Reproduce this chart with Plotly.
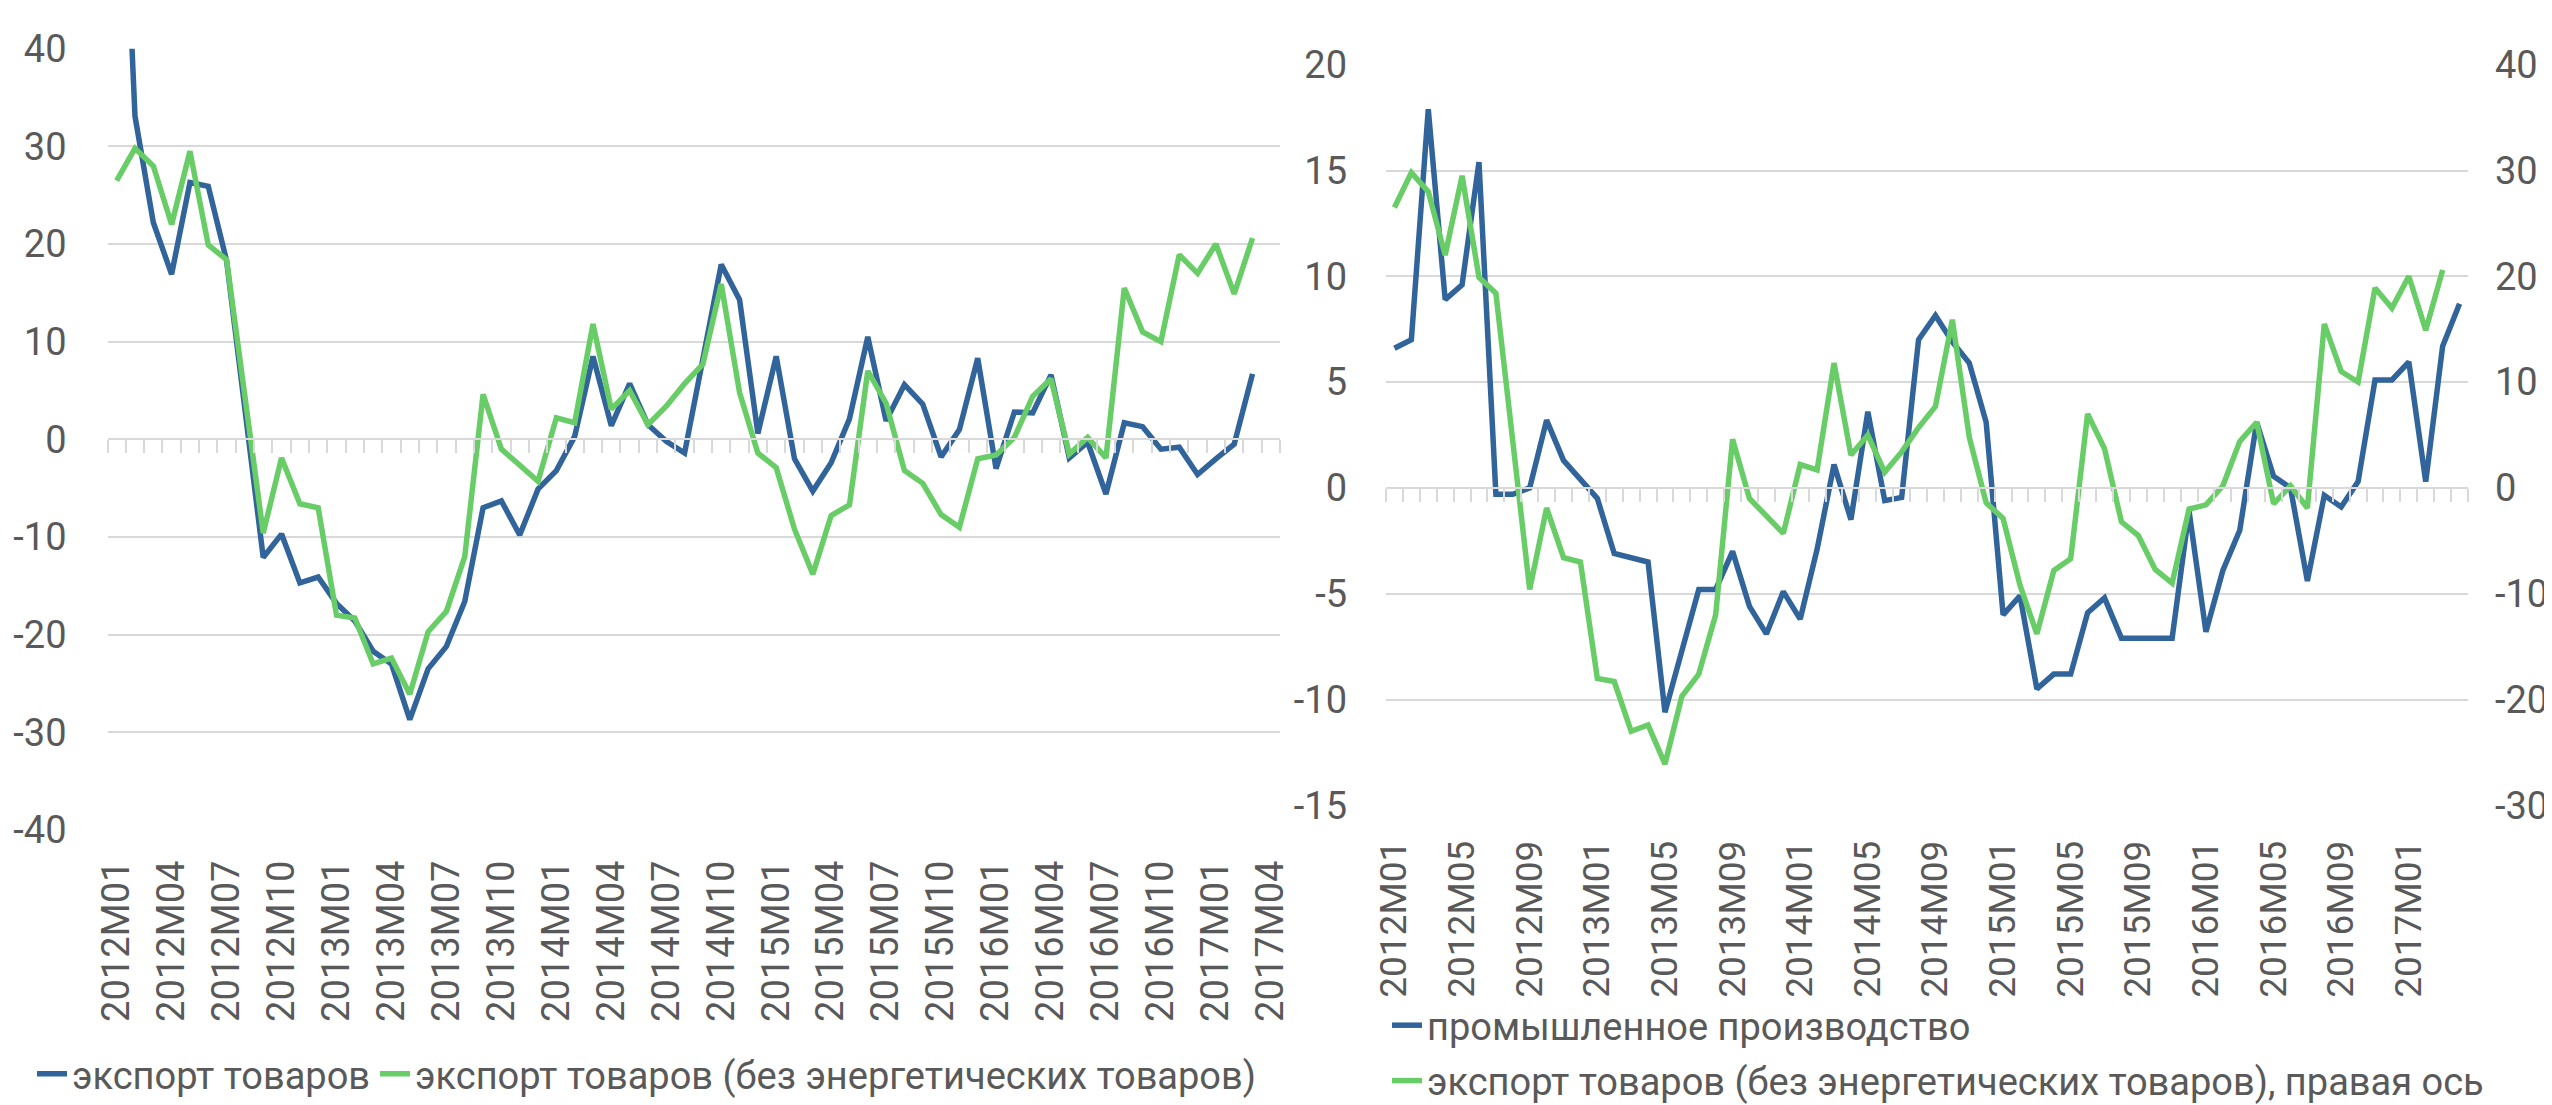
import plotly.graph_objects as go

W, H = 2552, 1105

# ---- categories ----
months = [f"{y}M{m:02d}" for y in range(2012, 2018) for m in range(1, 13)][:64]

# ---- series ----
export_goods = [76, 33.1, 22.2, 16.9, 26.3, 25.9, 18.3, 3.0, -12.1, -9.7,
                -14.7, -14.1, -16.8, -18.6, -21.7, -23.0, -28.7, -23.5, -21.2, -16.6,
                -7.0, -6.3, -9.8, -5.1, -3.2, 0.3, 8.5, 1.4, 5.7, 1.5,
                -0.2, -1.4, 8.0, 17.9, 14.3, 0.6, 8.5, -2.0, -5.3, -2.4,
                2.1, 10.5, 1.9, 5.6, 3.6, -1.8, 1.0, 8.3, -3.0, 2.8,
                2.7, 6.6, -1.9, -0.3, -5.6, 1.7, 1.3, -1.0, -0.8, -3.6,
                -2.0, -0.5, 6.7, None]

export_nonenergy = [26.5, 29.8, 28.0, 22.0, 29.5, 19.9, 18.4, 4.5, -9.6, -1.9,
                    -6.6, -7.0, -18.0, -18.3, -23.0, -22.4, -26.1, -19.7, -17.6, -12.0,
                    4.6, -1.0, -2.7, -4.3, 2.2, 1.7, 11.8, 3.1, 5.0, 1.5,
                    3.4, 5.7, 7.7, 15.9, 4.8, -1.4, -2.9, -9.2, -13.8, -7.8,
                    -6.7, 7.0, 3.7, -3.2, -4.5, -7.7, -9.0, -2.0, -1.6, 0.2,
                    4.4, 6.2, -1.5, 0.2, -1.9, 15.5, 11.0, 10.0, 18.9, 17.0,
                    20.0, 14.9, 20.6, None]

industrial_prod = [6.6, 7.0, 17.9, 8.9, 9.6, 15.4, -0.3, -0.3, 0.0, 3.2,
                   1.3, 0.4, -0.5, -3.1, -3.3, -3.5, -10.6, -7.8, -4.8, -4.8,
                   -3.0, -5.6, -6.9, -4.9, -6.2, -2.9, 1.1, -1.5, 3.6, -0.6,
                   -0.45, 7.0, 8.15, 6.9, 5.9, 3.1, -6.0, -5.1, -9.5, -8.8,
                   -8.8, -5.9, -5.2, -7.1, -7.1, -7.1, -7.1, -1.1, -6.8, -3.9,
                   -2.0, 3.1, 0.55, 0.0, -4.4, -0.35, -0.9, 0.3, 5.1, 5.1,
                   5.95, 0.3, 6.7, 8.7]

left_ticks = months[::3]
right_ticks = months[::4]

left_y_vals = [-40, -30, -20, -10, 0, 10, 20, 30, 40]
left_y_text = ["-40", "-30", "-20", "-10", "0", "10", "20", "30", "40"]
right_y1_vals = [-15, -10, -5, 0, 5, 10, 15, 20]
right_y1_text = ["-15", "-10", "-5", "0", "5", "10", "15", "20"]
right_y2_vals = [-30, -20, -10, 0, 10, 20, 30, 40]
right_y2_text = ["-30", "-20", "-10", "0", "10", "20", "30", "40"]

# ---- styles ----
BLUE = "#31649A"
GREEN = "#68CD66"
GRID = "#D9D9D9"
TXT = "#595959"
FONT = "Roboto"
FS = 38
LW = 5.5

# ---- geometry (paper fractions) ----
lx0, lx1 = 99.5 / W, 1272 / W
ly0, ly1 = 1 - 822 / H, 1 - 40.7 / H
rx0, rx1 = 1378 / W, 2460 / W
ry0, ry1 = 1 - 797.3 / H, 1 - 56.7 / H
l_zero = ly0 + (0 - (-40)) / 80 * (ly1 - ly0)
r_zero = ry0 + (0 - (-15)) / 35 * (ry1 - ry0)

fig = go.Figure()
fig.add_trace(go.Scatter(x=months, y=export_goods, name="экспорт товаров",
                         mode="lines", line=dict(color=BLUE, width=LW),
                         xaxis="x", yaxis="y", legend="legend"))
fig.add_trace(go.Scatter(x=months, y=export_nonenergy,
                         name="экспорт товаров (без энергетических товаров)",
                         mode="lines", line=dict(color=GREEN, width=LW),
                         xaxis="x", yaxis="y", legend="legend"))
fig.add_trace(go.Scatter(x=months, y=industrial_prod, name="промышленное производство",
                         mode="lines", line=dict(color=BLUE, width=LW),
                         xaxis="x2", yaxis="y2", legend="legend2",
                         legendgroup="a"))
fig.add_trace(go.Scatter(x=months, y=export_nonenergy,
                         name="экспорт товаров (без энергетических товаров), правая ось",
                         mode="lines", line=dict(color=GREEN, width=LW),
                         xaxis="x2", yaxis="y3", legend="legend2",
                         legendgroup="b"))
# carriers for the category-axis lines at zero
fig.add_trace(go.Scatter(x=[None], y=[None], xaxis="x3", yaxis="y",
                         showlegend=False, hoverinfo="skip"))
fig.add_trace(go.Scatter(x=[None], y=[None], xaxis="x4", yaxis="y2",
                         showlegend=False, hoverinfo="skip"))

tickfont = dict(family=FONT, size=FS, color=TXT)

zero_axis = dict(range=[-0.5, 63.5], tickmode="linear", tick0=-0.5, dtick=1,
                 ticks="outside", ticklen=13, tickwidth=1.5, tickcolor=GRID,
                 showticklabels=False, showgrid=False, zeroline=False,
                 showline=True, linecolor=GRID, linewidth=1.5, anchor="free",
                 automargin=False)

fig.update_layout(
    width=W, height=H,
    margin=dict(l=0, r=0, t=0, b=0, autoexpand=False),
    paper_bgcolor="white", plot_bgcolor="white",
    font=dict(family=FONT, color=TXT),
    xaxis=dict(domain=[lx0, lx1], type="category", range=[-0.5, 63.5],
               tickmode="array", tickvals=left_ticks, ticktext=left_ticks,
               tickangle=-90, ticks="", showgrid=False, zeroline=False,
               showline=False, tickfont=tickfont, ticklabelstandoff=22,
               anchor="y", automargin=False),
    yaxis=dict(domain=[ly0, ly1], range=[-40, 40], tickmode="array",
               tickvals=left_y_vals, ticktext=left_y_text,
               showgrid=True, gridcolor=GRID, gridwidth=1.5, zeroline=False,
               showline=False, ticks="", tickfont=tickfont,
               ticklabelstandoff=40, anchor="x", automargin=False),
    xaxis3=dict(overlaying="x", position=l_zero, **zero_axis),
    xaxis2=dict(domain=[rx0, rx1], type="category", range=[-0.5, 63.5],
                tickmode="array", tickvals=right_ticks, ticktext=right_ticks,
                tickangle=-90, ticks="", showgrid=False, zeroline=False,
                showline=False, tickfont=dict(family=FONT, size=37, color=TXT),
                ticklabelstandoff=27, anchor="y2", automargin=False),
    yaxis2=dict(domain=[ry0, ry1], range=[-15, 20], tickmode="array",
                tickvals=right_y1_vals, ticktext=right_y1_text,
                showgrid=True, gridcolor=GRID, gridwidth=1.5, zeroline=False,
                showline=False, ticks="", tickfont=tickfont,
                ticklabelstandoff=38, anchor="x2", automargin=False),
    yaxis3=dict(overlaying="y2", side="right", anchor="x2", range=[-30, 40],
                tickmode="array", tickvals=right_y2_vals, ticktext=right_y2_text,
                showgrid=False, zeroline=False,
                showline=False, ticks="", tickfont=tickfont,
                ticklabelstandoff=26, automargin=False),
    xaxis4=dict(overlaying="x2", position=r_zero, **zero_axis),
    legend=dict(orientation="h", x=24 / W, y=1 - 1066 / H, xanchor="left",
                yanchor="middle", font=dict(family=FONT, size=FS, color=TXT),
                bgcolor="rgba(0,0,0,0)", borderwidth=0, itemclick=False),
    legend2=dict(orientation="v", x=1379 / W, y=1 - 1045 / H, xanchor="left",
                 yanchor="middle", font=dict(family=FONT, size=FS, color=TXT),
                 bgcolor="rgba(0,0,0,0)", borderwidth=0, itemclick=False,
                 tracegroupgap=3),
    showlegend=True,
)

fig.write_html("out.html")
